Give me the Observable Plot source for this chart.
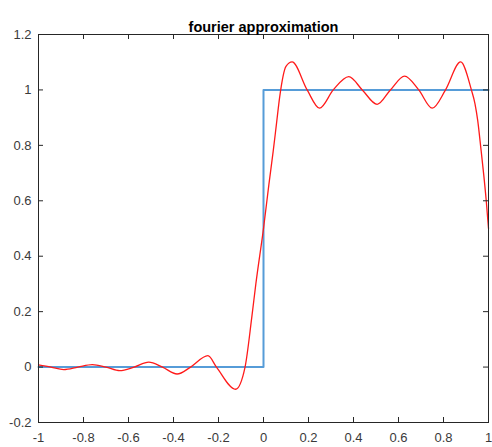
<!DOCTYPE html>
<html><head><meta charset="utf-8">
<script src="https://cdn.jsdelivr.net/npm/d3@7"></script>
<script src="https://cdn.jsdelivr.net/npm/@observablehq/plot@0.6"></script>
<style>body{margin:0;background:#fff;} #chart svg{display:block;}</style>
</head><body><div id="chart"></div>
<script>
const title = "fourier approximation";
const xTicks = [-1, -0.8, -0.6, -0.4, -0.2, 0, 0.2, 0.4, 0.6, 0.8, 1];
const yTicks = [-0.2, 0, 0.2, 0.4, 0.6, 0.8, 1, 1.2];

// square step (blue)
const stepX = [-1, 0, 0, 1];
const stepY = [0, 0, 1, 1];

// fourier approximation (red)
const approxX = [-1.000, -0.944, -0.888, -0.825, -0.761, -0.700, -0.639, -0.575, -0.510, -0.449, -0.384, -0.324, -0.247, -0.209, -0.124, -0.082, -0.052, -0.034, 0.000, 0.024, 0.043, 0.058, 0.072, 0.100, 0.127, 0.194, 0.249, 0.310, 0.379, 0.439, 0.505, 0.564, 0.627, 0.690, 0.750, 0.809, 0.876, 0.924, 0.940, 0.952, 0.966, 0.978, 0.990, 1.000];
const approxY = [0.008, 0.000, -0.009, 0.000, 0.009, 0.000, -0.013, 0.000, 0.018, 0.000, -0.025, 0.000, 0.041, 0.000, -0.080, 0.000, 0.180, 0.300, 0.500, 0.659, 0.778, 0.880, 0.975, 1.085, 1.101, 1.000, 0.934, 1.000, 1.048, 1.000, 0.948, 1.000, 1.050, 1.000, 0.934, 1.000, 1.101, 1.000, 0.950, 0.890, 0.790, 0.700, 0.600, 0.500];

const step = stepX.map((x, i) => ({x, y: stepY[i]}));
const approx = approxX.map((x, i) => ({x, y: approxY[i]}));

const W = 492, H = 447;
const mL = 38, mR = 4, mT = 34, mB = 25;
const iw = W - mL - mR, ih = H - mT - mB;
const tk = 5;
const fmt = d => String(+d.toFixed(1));

const chart = Plot.plot({
  width: W, height: H,
  marginLeft: mL, marginRight: mR, marginTop: mT, marginBottom: mB,
  style: {fontFamily: "'Liberation Sans', Arial, sans-serif", fontSize: "13px", color: "#3a3a3a", background: "#fff"},
  x: {domain: [-1, 1], label: null},
  y: {domain: [-0.2, 1.2], label: null},
  marks: [
    Plot.axisX({ticks: xTicks, tickSize: 0, tickPadding: 10, tickFormat: fmt, fontSize: 13, label: null}),
    Plot.axisY({ticks: yTicks, tickSize: 0, tickPadding: 7, tickFormat: fmt, fontSize: 13, label: null}),
    Plot.line(step, {x: "x", y: "y", stroke: "#569cd8", strokeWidth: 2}),
    Plot.line(approx, {x: "x", y: "y", stroke: "#ff1a1a", strokeWidth: 1.3, curve: "monotone-x"}),
    Plot.frame({stroke: "#262626", strokeWidth: 1}),
    Plot.ruleX(xTicks, {x: d => d, insetTop: ih - tk, stroke: "#262626"}),
    Plot.ruleX(xTicks, {x: d => d, insetBottom: ih - tk, stroke: "#262626"}),
    Plot.ruleY(yTicks, {y: d => d, insetRight: iw - tk, stroke: "#262626"}),
    Plot.ruleY(yTicks, {y: d => d, insetLeft: iw - tk, stroke: "#262626"}),
    Plot.text([title], {frameAnchor: "top", dy: -13, text: d => d, fontWeight: "bold", fontSize: 14.5, fill: "#000"})
  ]
});
document.getElementById("chart").appendChild(chart);
</script>
</body></html>
